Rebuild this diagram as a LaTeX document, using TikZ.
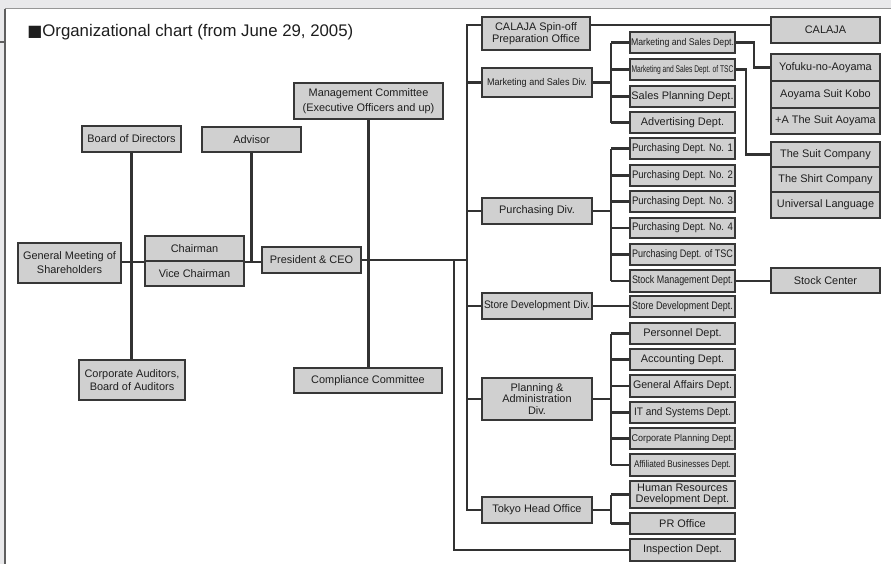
\documentclass[tikz,border=0pt]{standalone}
\usepackage{fontspec}
\setmainfont{Liberation Sans}
\newfontfamily\dejavu{DejaVu Sans}
\usepackage{graphicx}
\newlength\px \setlength\px{0.75pt}
\newcommand\fitw[2]{\resizebox{#1\px}{\height}{#2}}
% box by corners: name, x1, y1, x2, y2, options, text
\newcommand\bx[7]{%
  \node[box, minimum width={(#4-#2)*0.75pt}, minimum height={(#5-#3)*0.75pt}, #6]
    (#1) at ({(#2+#4)/2},{(#3+#5)/2}) {#7};}
\definecolor{bgray}{RGB}{233,233,235}
\definecolor{topline}{RGB}{150,150,150}
\definecolor{leftline}{RGB}{95,95,95}
\definecolor{boxfill}{RGB}{208,208,208}
\definecolor{boxline}{RGB}{55,55,55}
\definecolor{lnc}{RGB}{50,50,50}
\definecolor{txt}{RGB}{30,30,30}
\tikzset{
  box/.style={draw=boxline, fill=boxfill, line width=1.1pt, inner sep=0pt, align=center,
    font={\fontsize{8.2}{9.5}\selectfont}, text=txt},
  conn/.style={draw=lnc, line width=1.55pt},
  small/.style={font={\fontsize{7.3}{8.5}\selectfont}},
}
\begin{document}
\begin{tikzpicture}[x=0.75pt,y=-0.75pt]
\useasboundingbox (0,0) rectangle (891,564);
% page background
\fill[bgray] (0,0) rectangle (891,564);
\fill[white] (5,8.5) rectangle (891,564);
\draw[topline, line width=0.9pt] (5,8.5) -- (891,8.5);
\draw[leftline, line width=1.4pt] (5,8.5) -- (5,564);
\draw[leftline, line width=0.9pt] (0,42) -- (5,42);
% title
\node[anchor=west, inner sep=0pt, text=txt, font={\fontsize{12.6}{14}\selectfont}] (title) at (27,32) {{\dejavu\raisebox{-0.3pt}{\scalebox{0.95}{■}}}Organizational chart (from June 29, 2005)};

% left part
\bx{board}{82}{126}{181}{152}{}{Board of Directors}
\bx{advisor}{202}{127}{301}{152}{}{Advisor}
\bx{mgmt}{294}{83}{443}{119}{font={\fontsize{8.2}{11.2}\selectfont}}{Management Committee\\(Executive Officers and up)}
\bx{gms}{18}{243}{121}{283}{font={\fontsize{8.2}{10.5}\selectfont}}{General Meeting of\\Shareholders}
\bx{chair}{145}{236}{244}{261}{}{Chairman}
\bx{vice}{145}{261}{244}{286}{}{Vice Chairman}
\bx{pres}{262}{247}{361}{273}{}{President \& CEO}
\bx{audit}{79}{360}{185}{400}{font={\fontsize{8.2}{10}\selectfont}}{Corporate Auditors,\\Board of Auditors}
\bx{compl}{294}{368}{442}{393}{}{Compliance Committee}

% divisions
\bx{calajaoff}{482}{17}{590}{50}{font={\fontsize{8.2}{8.8}\selectfont}}{CALAJA Spin-off\\Preparation Office}
\bx{mkdiv}{482}{68}{592}{97}{small}{\fitw{100}{Marketing and Sales Div.}}
\bx{purdiv}{482}{198}{592}{224}{}{Purchasing Div.}
\bx{storediv}{482}{293}{592}{319}{}{\fitw{106}{Store Development Div.}}
\bx{plandiv}{482}{378}{592}{420}{font={\fontsize{8.2}{8.6}\selectfont}}{Planning \&\\Administration\\Div.}
\bx{tokyo}{482}{497}{592}{523}{}{Tokyo Head Office}

% departments
\bx{mk1}{630}{32}{735}{53}{small}{\fitw{103}{Marketing and Sales Dept.}}
\bx{mk2}{630}{59}{735}{80}{small}{\fitw{102}{Marketing and Sales Dept. of TSC}}
\bx{mk3}{630}{86}{735}{107}{}{Sales Planning Dept.}
\bx{mk4}{630}{112}{735}{133}{}{Advertising Dept.}
\bx{p1}{630}{138}{735}{159}{}{\fitw{101}{Purchasing Dept. No. 1}}
\bx{p2}{630}{165}{735}{186}{}{\fitw{101}{Purchasing Dept. No. 2}}
\bx{p3}{630}{191}{735}{212}{}{\fitw{101}{Purchasing Dept. No. 3}}
\bx{p4}{630}{218}{735}{238}{}{\fitw{101}{Purchasing Dept. No. 4}}
\bx{p5}{630}{244}{735}{265}{}{\fitw{101}{Purchasing Dept. of TSC}}
\bx{p6}{630}{270}{735}{292}{}{\fitw{101}{Stock Management Dept.}}
\bx{sd}{630}{296}{735}{317}{}{\fitw{101}{Store Development Dept.}}
\bx{a1}{630}{323}{735}{344}{}{Personnel Dept.}
\bx{a2}{630}{349}{735}{370}{}{Accounting Dept.}
\bx{a3}{630}{375}{735}{397}{}{\fitw{99}{General Affairs Dept.}}
\bx{a4}{630}{402}{735}{423}{}{\fitw{97}{IT and Systems Dept.}}
\bx{a5}{630}{428}{735}{449}{small}{\fitw{102}{Corporate Planning Dept.}}
\bx{a6}{630}{454}{735}{476}{small}{\fitw{97}{Affiliated Businesses Dept.}}
\bx{t1}{630}{481}{735}{508}{font={\fontsize{8.2}{8.5}\selectfont}}{Human Resources\\Development Dept.}
\bx{t2}{630}{513}{735}{534}{}{PR Office}
\bx{insp}{630}{539}{735}{561}{}{Inspection Dept.}

% right column
\bx{calaja}{771}{17}{880}{43}{}{CALAJA}
\bx{y1}{771}{54}{880}{81}{}{Yofuku-no-Aoyama}
\bx{y2}{771}{81}{880}{108}{}{Aoyama Suit Kobo}
\bx{y3}{771}{108}{880}{134}{}{+A The Suit Aoyama}
\bx{s1}{771}{142}{880}{167}{}{The Suit Company}
\bx{s2}{771}{167}{880}{192}{}{The Shirt Company}
\bx{s3}{771}{192}{880}{218}{}{Universal Language}
\bx{stock}{771}{268}{880}{293}{}{Stock Center}

% coordinates
\coordinate (sp2top) at (467,25);
\coordinate (sp2) at (467,260);
\coordinate (sp1) at (454,260);
\coordinate (ss) at (611,0);
\coordinate (c1) at (754,0);
\coordinate (c2) at (746,0);

% left connectors
\draw[conn] (gms.east |- chair.south) -- (chair.south west);
\draw[conn] (chair.south east) -- (pres.west |- chair.south);
\draw[conn] (board.south) -- (board.south |- audit.north);
\draw[conn] (advisor.south) -- (advisor.south |- chair.south);
\draw[conn] (mgmt.south) -- (mgmt.south |- compl.north);
\draw[conn] (pres.east) -- (sp2);

% main spines
\draw[conn] (calajaoff.west |- sp2top) -- (sp2top) -- (sp2top |- tokyo.west) -- (tokyo.west);
\draw[conn] (calajaoff.east |- sp2top) -- (calaja.west |- sp2top);
\foreach \d in {mkdiv,purdiv,storediv,plandiv}{
  \draw[conn] (\d.west -| sp2) -- (\d.west);
}
\draw[conn] (sp1) |- (insp.west);

% marketing
\draw[conn] (mkdiv.east) -- (mkdiv.east -| ss);
\draw[conn] (mk1.west -| ss) -- (mk4.west -| ss);
\foreach \d in {mk1,mk2,mk3,mk4}{ \draw[conn] (\d.west -| ss) -- (\d.west); }
% purchasing
\draw[conn] (purdiv.east) -- (purdiv.east -| ss);
\draw[conn] (p1.west -| ss) -- (p6.west -| ss);
\foreach \d in {p1,p2,p3,p4,p5,p6}{ \draw[conn] (\d.west -| ss) -- (\d.west); }
% store development
\draw[conn] (storediv.east) -- (sd.west |- storediv.east);
% planning
\draw[conn] (plandiv.east) -- (plandiv.east -| ss);
\draw[conn] (a1.west -| ss) -- (a6.west -| ss);
\foreach \d in {a1,a2,a3,a4,a5,a6}{ \draw[conn] (\d.west -| ss) -- (\d.west); }
% tokyo
\draw[conn] (tokyo.east) -- (tokyo.east -| ss);
\draw[conn] (t1.west -| ss) -- (t2.west -| ss);
\foreach \d in {t1,t2}{ \draw[conn] (\d.west -| ss) -- (\d.west); }

% right links
\draw[conn] (mk1.east) -- (mk1.east -| c1) -- (y1.west -| c1) -- (y1.west);
\draw[conn] (mk2.east) -- (mk2.east -| c2) -- (s1.west -| c2) -- (s1.west);
\draw[conn] (p6.east) -- (stock.west |- p6.east);
\end{tikzpicture}
\end{document}
